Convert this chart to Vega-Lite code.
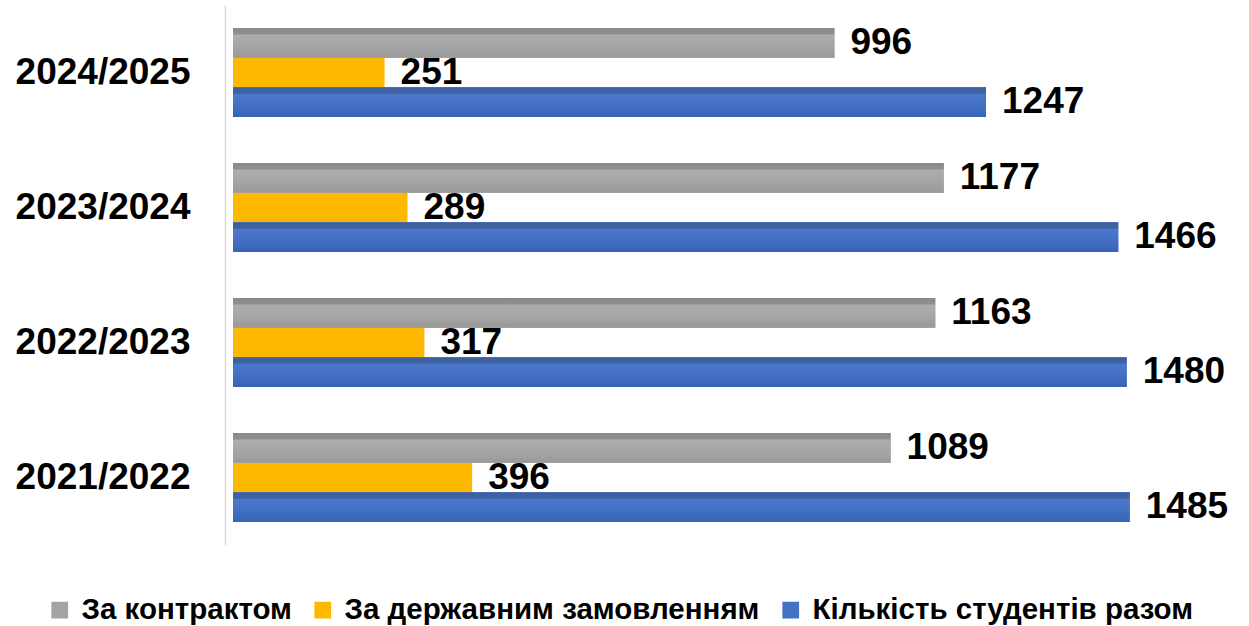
{
  "$schema": "https://vega.github.io/schema/vega-lite/v6.json",
  "width": 1000,
  "height": 540,
  "autosize": {"type": "none"},
  "padding": {"left": 233, "top": 5, "right": 16, "bottom": 81},
  "background": "white",
  "config": {"view": {"stroke": null}, "font": "Liberation Sans"},
  "data": {
    "values": [
      {"year": "2024/2025", "series": "За контрактом", "value": 996},
      {"year": "2024/2025", "series": "За державним замовленням", "value": 251},
      {"year": "2024/2025", "series": "Кількість студентів разом", "value": 1247},
      {"year": "2023/2024", "series": "За контрактом", "value": 1177},
      {"year": "2023/2024", "series": "За державним замовленням", "value": 289},
      {"year": "2023/2024", "series": "Кількість студентів разом", "value": 1466},
      {"year": "2022/2023", "series": "За контрактом", "value": 1163},
      {"year": "2022/2023", "series": "За державним замовленням", "value": 317},
      {"year": "2022/2023", "series": "Кількість студентів разом", "value": 1480},
      {"year": "2021/2022", "series": "За контрактом", "value": 1089},
      {"year": "2021/2022", "series": "За державним замовленням", "value": 396},
      {"year": "2021/2022", "series": "Кількість студентів разом", "value": 1485}
    ]
  },
  "encoding": {
    "y": {
      "field": "year", "type": "nominal",
      "sort": ["2024/2025", "2023/2024", "2022/2023", "2021/2022"],
      "scale": {"paddingInner": 0.34, "paddingOuter": 0.17},
      "axis": {
        "title": null, "ticks": false, "domain": true, "domainColor": "#d9d9d9", "domainWidth": 1.5,
        "offset": 8, "labelPadding": 35, "labelFontSize": 37, "labelFontWeight": "bold",
        "labelColor": "black", "labelFont": "Liberation Sans"
      }
    },
    "yOffset": {
      "field": "series", "type": "nominal",
      "sort": ["За контрактом", "За державним замовленням", "Кількість студентів разом"],
      "scale": {"paddingInner": 0, "paddingOuter": 0}
    },
    "x": {
      "field": "value", "type": "quantitative",
      "scale": {"domain": [0, 1656], "nice": false},
      "axis": null
    }
  },
  "layer": [
    {
      "mark": {"type": "bar", "cornerRadius": 0},
      "encoding": {
        "color": {
          "field": "series", "type": "nominal",
          "sort": ["За контрактом", "За державним замовленням", "Кількість студентів разом"],
          "scale": {"range": ["#a3a3a3", "#ffb800", "#4472c4"]},
          "legend": {
            "title": null, "orient": "none", "direction": "horizontal",
            "legendX": -188, "legendY": 590,
            "symbolType": "square", "symbolSize": 280, "symbolStrokeWidth": 0,
            "labelFontSize": 29.5, "labelFontWeight": "bold", "labelColor": "black",
            "labelFont": "Liberation Sans", "columnPadding": 16, "labelOffset": 7,
            "labelLimit": 700
          }
        }
      }
    },
    {
      "transform": [{"filter": "datum.series == 'За контрактом'"}],
      "mark": {"type": "bar", "color": {"gradient": "linear", "x1": 0, "y1": 0, "x2": 0, "y2": 1,
        "stops": [{"offset": 0, "color": "#8a8a8a"}, {"offset": 0.2, "color": "#8f8f8f"}, {"offset": 0.24, "color": "#adadad"}, {"offset": 0.6, "color": "#a6a6a6"}, {"offset": 1, "color": "#999999"}]}}
    },
    {
      "transform": [{"filter": "datum.series == 'Кількість студентів разом'"}],
      "mark": {"type": "bar", "color": {"gradient": "linear", "x1": 0, "y1": 0, "x2": 0, "y2": 1,
        "stops": [{"offset": 0, "color": "#3c5fa6"}, {"offset": 0.2, "color": "#41639f"}, {"offset": 0.24, "color": "#4a78cc"}, {"offset": 0.6, "color": "#4470c4"}, {"offset": 1, "color": "#3762b8"}]}}
    },
    {
      "mark": {"type": "text", "align": "left", "baseline": "middle", "dx": 16, "fontSize": 37, "fontWeight": "bold", "color": "black", "font": "Liberation Sans"},
      "encoding": {"text": {"field": "value", "type": "quantitative"}}
    }
  ]
}
